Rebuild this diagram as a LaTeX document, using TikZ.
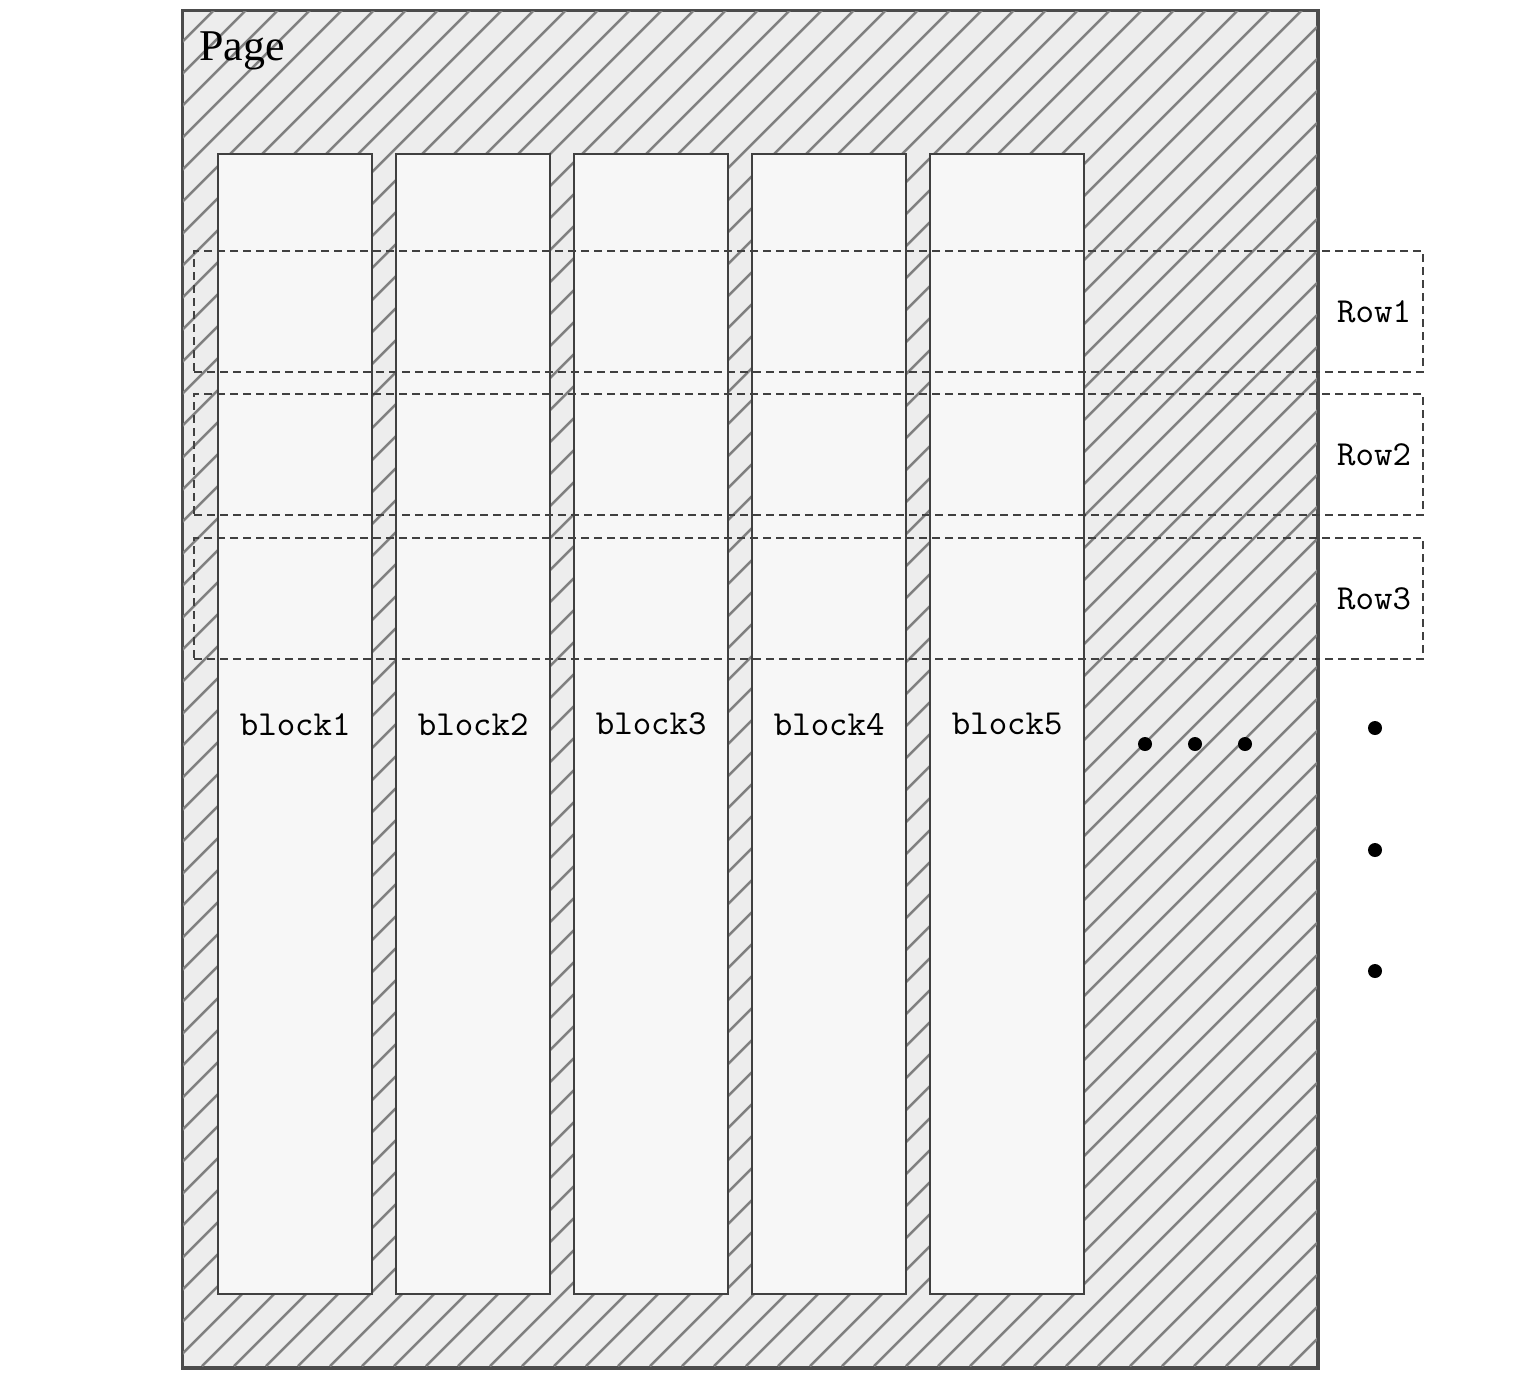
\documentclass[tikz,border=0pt]{standalone}
\usepackage{fontspec}
\setmainfont{Liberation Serif}
\usepackage{tikz}
\usetikzlibrary{positioning, calc}

\begin{document}
\begin{tikzpicture}[
  x=0.1mm, y=-0.1mm,
  pagebox/.style={draw=black!70, fill=black!7, line width=0.7pt, minimum width=113.4mm, minimum height=135.6mm, inner sep=0pt},
  hatchline/.style={draw=black!50, line width=0.7pt},
  blockbox/.style={draw=black!75, fill=black!3, line width=0.7pt, minimum width=15.4mm, minimum height=114mm, inner sep=0pt, font=\ttfamily\fontsize{10}{12}\selectfont},
  rowbox/.style={draw=black!75, dash pattern=on 0.8mm off 0.5mm, line width=0.6pt, minimum width=122.9mm, minimum height=12.1mm, inner sep=0pt},
  rowlabel/.style={font=\ttfamily\fontsize{10}{12}\selectfont},
  ellipsisdot/.style={circle, fill=black, inner sep=0pt, minimum size=1.4mm},
]
\useasboundingbox (0,0) rectangle (1534,1380);

% Page
\node[pagebox, anchor=north west] (page) at (182,10) {};
\begin{scope}
  \clip (page.south west) rectangle (page.north east);
  \foreach \k in {0,...,80} {
    \draw[hatchline] ({182-1356+\k*32},1366) -- ++(1356,-1356);
  }
\end{scope}
\draw[draw=black!70, line width=0.7pt] (page.south west) rectangle (page.north east);
\node[anchor=west, font=\fontsize{12.5}{15}\selectfont] (pagelbl) at (187,51) {Page};

% Blocks
\foreach \i in {1,...,5} {
  \node[blockbox, anchor=north west] (block\i) at ({217+178*(\i-1)},153) {block\i};
}

% Rows
\node[rowbox, anchor=north west] (row1) at (193,250) {};
\node[rowbox, anchor=north west] (row2) at (193,393) {};
\node[rowbox, anchor=north west] (row3) at (193,537) {};
\foreach \i in {1,2,3} {
  \node[rowlabel] (rowlbl\i) at ([xshift=-5mm]row\i.east) {Row\i};
}

% Points de suspension
\node[ellipsisdot] (hdot1) at (1145,744) {};
\node[ellipsisdot] (hdot2) at (1195,744) {};
\node[ellipsisdot] (hdot3) at (1245,744) {};
\node[ellipsisdot] (vdot1) at (1375,728) {};
\node[ellipsisdot] (vdot2) at (1375,850) {};
\node[ellipsisdot] (vdot3) at (1375,971) {};

\end{tikzpicture}
\end{document}
